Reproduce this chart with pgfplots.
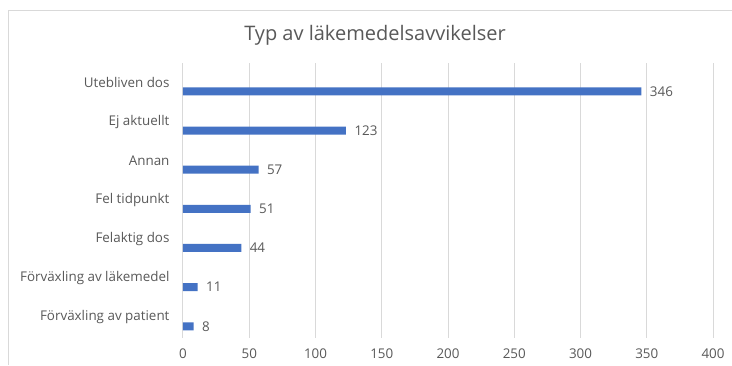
\documentclass[border=0pt]{standalone}
\usepackage{fontspec}
\setmainfont{Open Sans}
\usepackage{pgfplots}
\pgfplotsset{compat=1.18}
\definecolor{barblue}{HTML}{4472C4}
\definecolor{txtgray}{HTML}{595959}
\definecolor{gridgray}{HTML}{D9D9D9}
\begin{document}
\begin{tikzpicture}[x=1pt,y=1pt]
\useasboundingbox (0,0) rectangle (732,-365);
\fill[white] (0,0) rectangle (732,-365);
\draw[gridgray, line width=1pt] (8,-365) -- (8,-10) -- (732,-10);
\node[txtgray, font=\fontsize{20}{23}\selectfont] at (375,-35) {Typ av läkemedelsavvikelser};
\begin{axis}[at={(183pt,-338pt)}, anchor=south west, scale only axis,
  width=530pt, height=275pt,
  xbar, xmin=0, xmax=400, ymin=-0.725, ymax=6.3, y dir=reverse,
  bar width=8pt,
  xtick={0,50,...,400}, ytick={0,...,6},
  yticklabels={Utebliven dos, Ej aktuellt, Annan, Fel tidpunkt, Felaktig dos, Förväxling av läkemedel, Förväxling av patient},
  xmajorgrids, major grid style={gridgray, line width=1pt},
  axis line style={draw=none}, major tick length=0pt,
  ticklabel style={txtgray, font=\fontsize{13.4}{15}\selectfont},
  /pgf/number format/assume math mode=true,
  yticklabel style={yshift=9pt, xshift=-10pt},
  xticklabel style={yshift=-7pt},
  nodes near coords,
  nodes near coords style={txtgray, font=\fontsize{13.4}{15}\selectfont, anchor=west, xshift=5pt},
  clip=false]
\addplot[fill=barblue, draw=none] coordinates {(346,0) (123,1) (57,2) (51,3) (44,4) (11,5) (8,6)};
\end{axis}
\end{tikzpicture}
\end{document}
